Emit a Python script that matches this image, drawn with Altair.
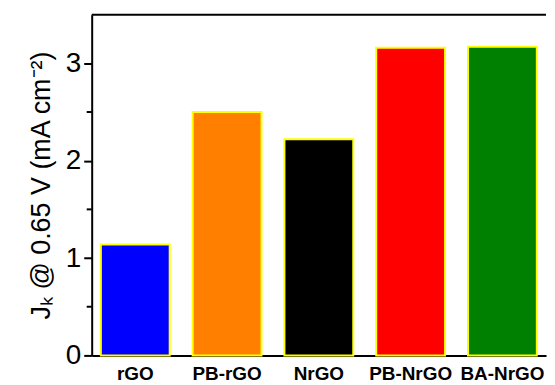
import altair as alt
import pandas as pd

categories = ["rGO", "PB-rGO", "NrGO", "PB-NrGO", "BA-NrGO"]
values = [1.14, 2.50, 2.22, 3.16, 3.17]
colors = ["#0000FF", "#FF8000", "#000000", "#FF0000", "#008000"]
minor_ticks = [0.5, 1.5, 2.5]

df = pd.DataFrame({"cat": categories, "val": values, "color": colors})
minor_df = pd.DataFrame({"v": minor_ticks})

FONT = "Liberation Sans"

bars = alt.Chart(df).mark_bar(stroke="#FFFF00", strokeWidth=2).encode(
    x=alt.X("cat:N", sort=categories, title=None,
            scale=alt.Scale(paddingInner=0.25, paddingOuter=0.1),
            axis=alt.Axis(labelAngle=0, labelFont=FONT, labelFontSize=19,
                          labelFontWeight="bold", labelColor="black",
                          ticks=False, domainColor="black", domainWidth=2,
                          labelPadding=9)),
    y=alt.Y("val:Q", title="Jₖ @ 0.65 V (mA cm⁻²)",
            scale=alt.Scale(domain=[0, 3.5], nice=False),
            axis=alt.Axis(values=[0, 1, 2, 3], format="d", grid=False,
                          labelFont=FONT, labelFontSize=28, labelColor="black",
                          tickSize=8, tickWidth=2, tickColor="black",
                          domainColor="black", domainWidth=2, labelPadding=3,
                          titleFont=FONT, titleFontSize=27,
                          titleFontWeight="normal", titleColor="black",
                          titlePadding=10)),
    fill=alt.Fill("color:N", scale=None),
)

minor = alt.Chart(minor_df).mark_rule(color="black", strokeWidth=2).encode(
    y=alt.Y("v:Q"),
    x=alt.value(-5),
    x2=alt.value(0),
)

top = alt.Chart(pd.DataFrame({"t": [3.5]})).mark_rule(color="black", strokeWidth=2).encode(
    y=alt.Y("t:Q"),
)

chart = alt.layer(bars, minor, top).properties(
    width=456, height=342,
    padding={"left": 19, "top": 5, "right": 0, "bottom": 0},
).configure_view(stroke=None)

chart.save("out.html", embed_options={"renderer": "svg", "actions": False})
